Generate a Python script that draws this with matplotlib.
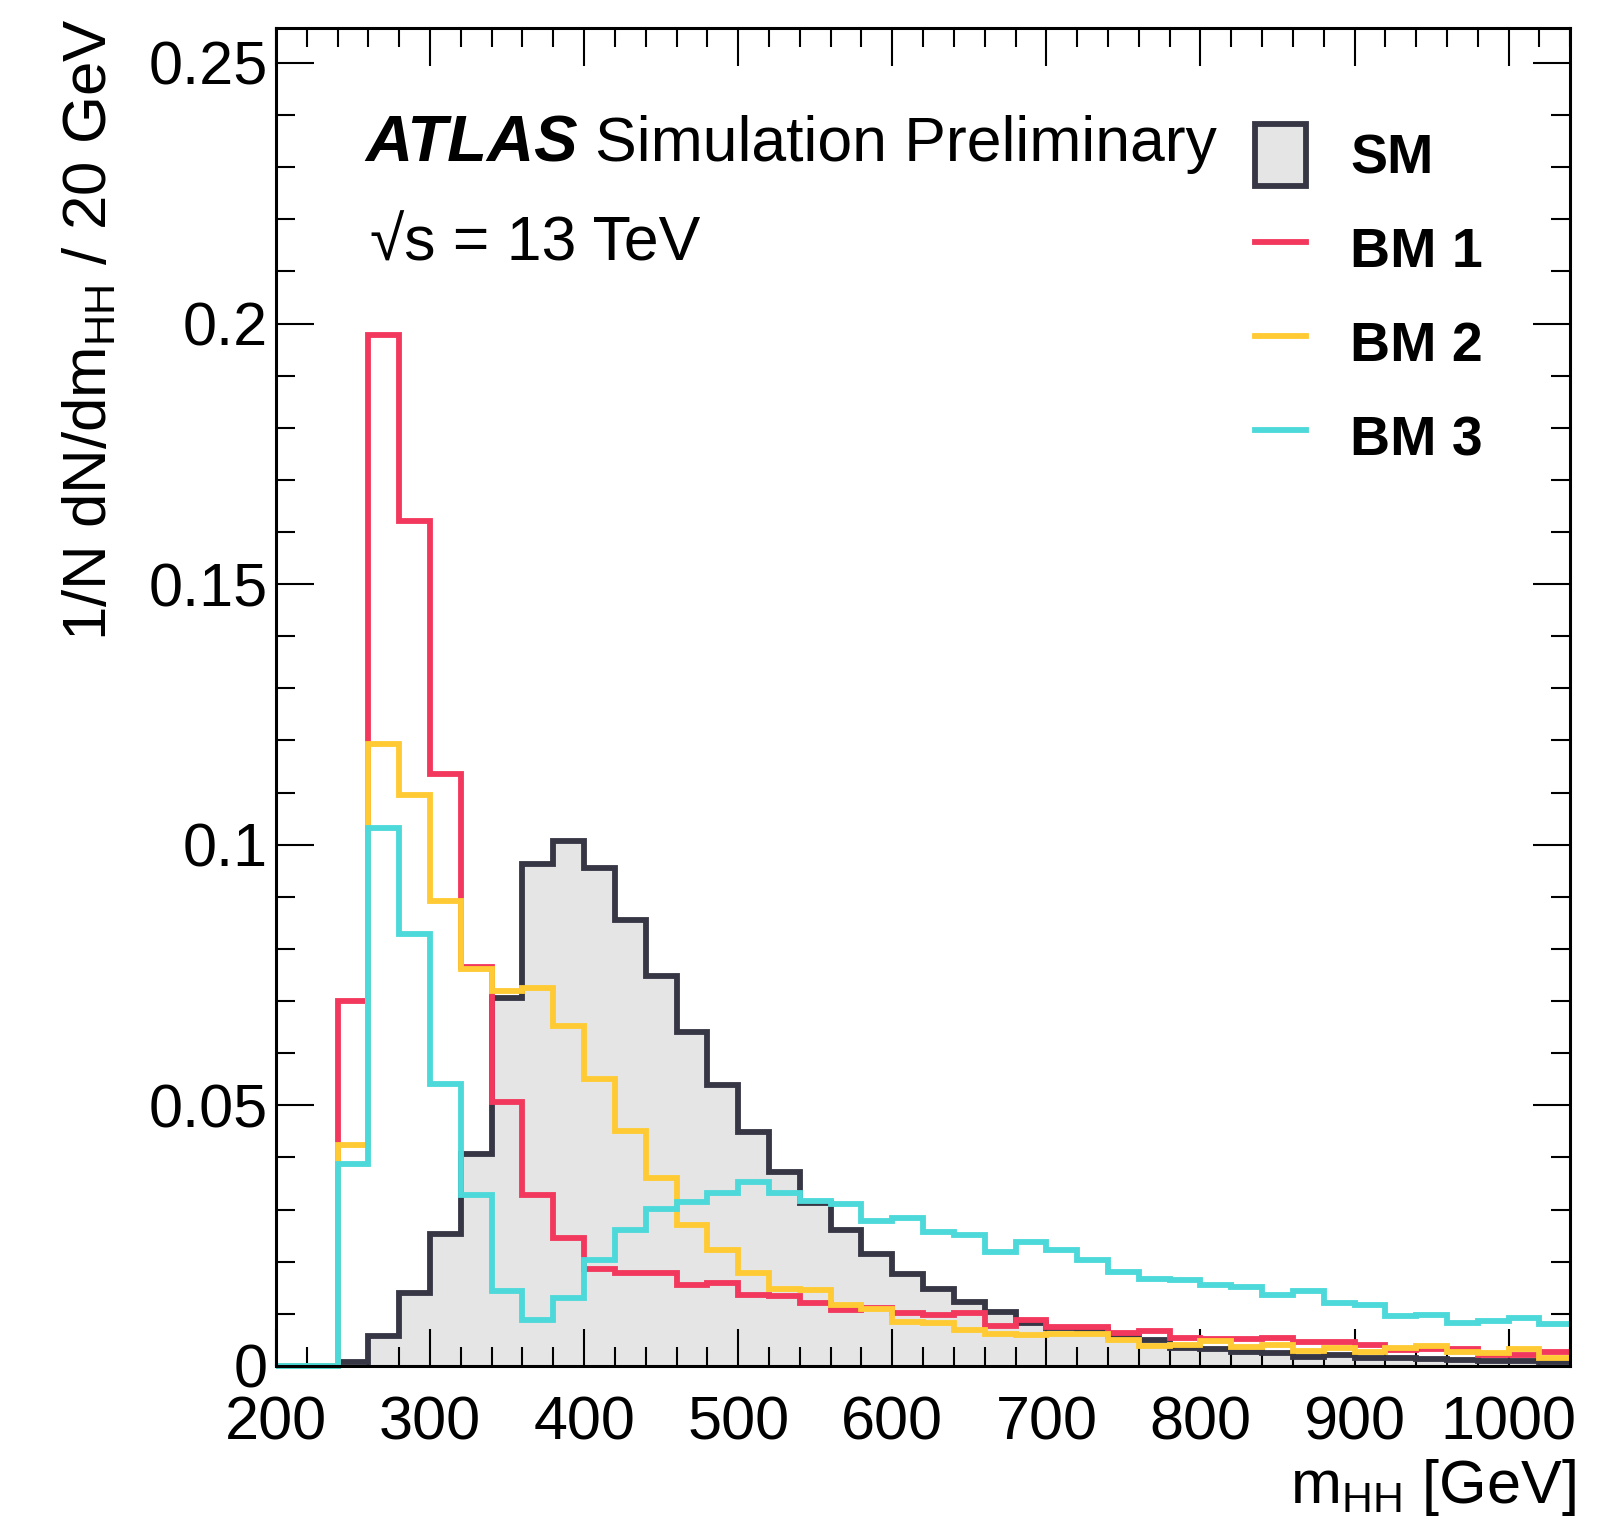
import numpy as np
import matplotlib
matplotlib.use("Agg")
import matplotlib.pyplot as plt
from matplotlib.patches import Patch
from matplotlib.lines import Line2D
from matplotlib.ticker import MultipleLocator

plt.rcParams['font.family'] = ['Liberation Sans', 'DejaVu Sans']
plt.rcParams['mathtext.fontset'] = 'custom'
plt.rcParams['mathtext.rm'] = 'Liberation Sans'
plt.rcParams['mathtext.it'] = 'Liberation Sans:italic'
plt.rcParams['mathtext.bf'] = 'Liberation Sans:bold'
plt.rcParams['mathtext.default'] = 'regular'

# m_HH binning: 20 GeV bins from 200 to 1040 GeV
bin_edges = np.arange(200, 1041, 20)

sm = [0, 0, 0.0008, 0.0057, 0.0140, 0.0253, 0.0407, 0.0705, 0.0963, 0.1008,
      0.0956, 0.0855, 0.0748, 0.0640, 0.0539, 0.0449, 0.0373, 0.0312, 0.0261, 0.0214,
      0.0176, 0.0148, 0.0123, 0.0104, 0.0082, 0.0072, 0.0068, 0.0058, 0.0049, 0.0034,
      0.0032, 0.0027, 0.0024, 0.0018, 0.0021, 0.0015, 0.0015, 0.0013, 0.0012, 0.0010,
      0.0010, 0.0008]
bm1 = [0, 0, 0.0700, 0.1978, 0.1622, 0.1135, 0.0765, 0.0507, 0.0328, 0.0245,
       0.0186, 0.0178, 0.0179, 0.0156, 0.0160, 0.0137, 0.0134, 0.0120, 0.0107, 0.0111,
       0.0102, 0.0097, 0.0101, 0.0076, 0.0089, 0.0074, 0.0075, 0.0063, 0.0067, 0.0053,
       0.0052, 0.0051, 0.0054, 0.0045, 0.0045, 0.0040, 0.0031, 0.0033, 0.0032, 0.0021,
       0.0021, 0.0026]
bm2 = [0, 0, 0.0423, 0.1194, 0.1095, 0.0893, 0.0762, 0.0719, 0.0726, 0.0652,
       0.0551, 0.0450, 0.0360, 0.0270, 0.0223, 0.0178, 0.0147, 0.0146, 0.0117, 0.0110,
       0.0084, 0.0082, 0.0069, 0.0062, 0.0060, 0.0061, 0.0062, 0.0050, 0.0039, 0.0041,
       0.0047, 0.0037, 0.0040, 0.0028, 0.0034, 0.0026, 0.0034, 0.0039, 0.0026, 0.0024,
       0.0032, 0.0015]
bm3 = [0, 0, 0.0388, 0.1032, 0.0828, 0.0540, 0.0327, 0.0144, 0.0088, 0.0131,
       0.0203, 0.0261, 0.0301, 0.0314, 0.0332, 0.0352, 0.0331, 0.0317, 0.0310, 0.0279,
       0.0283, 0.0257, 0.0251, 0.0219, 0.0237, 0.0223, 0.0203, 0.0180, 0.0166, 0.0165,
       0.0155, 0.0151, 0.0136, 0.0143, 0.0120, 0.0117, 0.0096, 0.0098, 0.0082, 0.0087,
       0.0091, 0.0081]

labels = ['SM', 'BM 1', 'BM 2', 'BM 3']
sm_line = '#363645'
sm_fill = '#e5e5e5'
bm_colors = ['#f2385c', '#ffca33', '#4dd9d9']
lw = 4.2

fig = plt.figure(figsize=(16.04, 15.16), dpi=100)
ax = fig.add_axes([0.172, 0.099, 0.807, 0.8825])

ax.stairs(sm, bin_edges, fill=True, color=sm_fill, zorder=1)
ax.stairs(sm, bin_edges, color=sm_line, linewidth=lw, baseline=None, zorder=2, clip_on=False)
for vals, col in zip([bm1, bm2, bm3], bm_colors):
    ax.stairs(vals, bin_edges, color=col, linewidth=lw, baseline=None, zorder=2, clip_on=False)

ax.set_xlim(200, 1040)
ax.set_ylim(0, 0.2567)
ax.xaxis.set_major_locator(MultipleLocator(100))
ax.xaxis.set_minor_locator(MultipleLocator(20))
ax.yaxis.set_major_locator(MultipleLocator(0.05))
ax.yaxis.set_minor_locator(MultipleLocator(0.01))
ax.set_yticks([0, 0.05, 0.1, 0.15, 0.2, 0.25])
ax.set_yticklabels(['0', '0.05', '0.1', '0.15', '0.2', '0.25'])
ax.tick_params(which='both', direction='in', top=True, right=True, width=1.5, labelsize=44)
ax.tick_params(which='major', length=27)
ax.tick_params(which='minor', length=13.5)
ax.tick_params(axis='x', pad=21)
ax.tick_params(axis='y', pad=6)
for s in ax.spines.values():
    s.set_linewidth(2.2)

ax.set_xlabel(r'm$_{HH}$ [GeV]', fontsize=44, loc='right')
ax.xaxis.set_label_coords(1.004, -0.068)
ax.set_ylabel(r'1/N dN/dm$_{HH}$ / 20 GeV', fontsize=44.5, loc='top')
ax.yaxis.set_label_coords(-0.121, 1.007)

ax.text(0.0688, 0.9006, 'ATLAS', transform=ax.transAxes, fontsize=47,
        fontweight='bold', fontstyle='italic')
ax.text(0.2465, 0.9006, 'Simulation Preliminary', transform=ax.transAxes, fontsize=45)
ax.text(0.0726, 0.8259, '√s = 13 TeV', transform=ax.transAxes, fontsize=45)

handles = [Patch(facecolor=sm_fill, edgecolor=sm_line, linewidth=lw)]
handles += [Line2D([], [], color=c, linewidth=lw) for c in bm_colors]
leg = ax.legend(handles, labels, loc='upper left', bbox_to_anchor=(0.7566, 0.9285),
                frameon=False, borderpad=0, borderaxespad=0, fontsize=40,
                handlelength=0.92, handleheight=1.36, handletextpad=0.79,
                labelspacing=0.56)
for t in leg.get_texts():
    t.set_fontweight('bold')

fig.savefig('out.png', dpi=100)
